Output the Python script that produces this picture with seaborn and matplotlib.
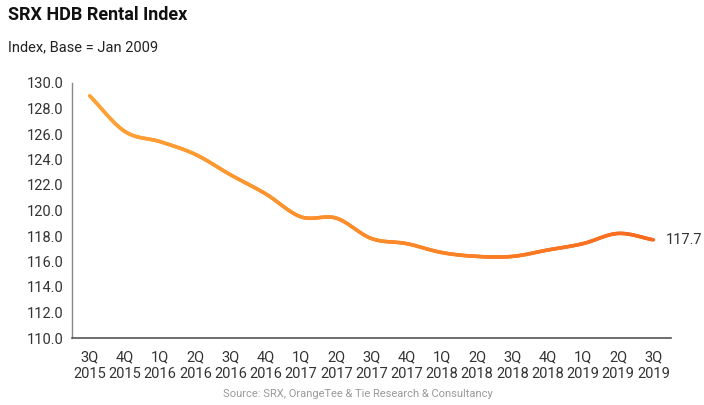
import numpy as np
import pandas as pd
import matplotlib
matplotlib.use("Agg")
import matplotlib.pyplot as plt
from matplotlib.collections import LineCollection
from matplotlib.colors import LinearSegmentedColormap
import seaborn as sns

quarters = ["3Q\n2015", "4Q\n2015", "1Q\n2016", "2Q\n2016", "3Q\n2016", "4Q\n2016",
            "1Q\n2017", "2Q\n2017", "3Q\n2017", "4Q\n2017", "1Q\n2018", "2Q\n2018",
            "3Q\n2018", "4Q\n2018", "1Q\n2019", "2Q\n2019", "3Q\n2019"]
index_values = [129.0, 126.2, 125.4, 124.4, 122.8, 121.3, 119.5, 119.4, 117.8,
                117.4, 116.7, 116.4, 116.4, 116.9, 117.4, 118.2, 117.7]
y_ticks = [110.0, 112.0, 114.0, 116.0, 118.0, 120.0, 122.0, 124.0, 126.0, 128.0, 130.0]

sns.set_theme(style="white")
plt.rcParams["font.family"] = ["Roboto", "DejaVu Sans"]

# smooth rendering of the line (cubic Hermite through the data points)
xs = np.arange(len(index_values), dtype=float)
ys = np.array(index_values)
m = np.gradient(ys, xs)
dense_x, dense_y = [], []
for i in range(len(xs) - 1):
    t = np.linspace(0, 1, 30, endpoint=(i == len(xs) - 2))
    h00 = 2 * t**3 - 3 * t**2 + 1
    h10 = t**3 - 2 * t**2 + t
    h01 = -2 * t**3 + 3 * t**2
    h11 = t**3 - t**2
    dense_x.extend(xs[i] + t)
    dense_y.extend(h00 * ys[i] + h10 * m[i] + h01 * ys[i + 1] + h11 * m[i + 1])
df = pd.DataFrame({"x": dense_x, "y": dense_y})

fig = plt.figure(figsize=(7.04, 4.05), dpi=100)
ax = fig.add_axes([72 / 704, 1 - 338 / 405, (671 - 72) / 704, (338 - 83) / 405])

sns.lineplot(data=df, x="x", y="y", ax=ax, color="#FB8A2A", linewidth=2.4)

# give the drawn line its orange gradient (light orange -> red-orange)
line = ax.lines[0]
pts = np.column_stack([line.get_xdata(), line.get_ydata()])
segs = np.stack([pts[:-1], pts[1:]], axis=1)
cmap = LinearSegmentedColormap.from_list("og", ["#FFA236", "#FC8C2A", "#F86A1E"])
lc = LineCollection(segs, cmap=cmap, linewidth=2.6, capstyle="round", joinstyle="round")
lc.set_array(np.linspace(0, 1, len(segs)))
ax.add_collection(lc)
line.set_visible(False)

ax.set_xlim(-0.5, len(quarters) - 0.5)
ax.set_ylim(110, 130)
ax.set_yticks(y_ticks)
ax.set_yticklabels([f"{v:.1f}" for v in y_ticks], fontsize=10.5, color="#333333")
ax.set_xticks(range(len(quarters)))
ax.set_xticklabels(quarters, fontsize=10.5, color="#333333", linespacing=1.25)
ax.tick_params(axis="both", length=0, pad=6)
ax.tick_params(axis="x", pad=9)
ax.set_xlabel("")
ax.set_ylabel("")
for s in ["top", "right"]:
    ax.spines[s].set_visible(False)
ax.spines["left"].set_color("#888888")
ax.spines["bottom"].set_color("#555555")
ax.spines["left"].set_linewidth(1.0)
ax.spines["bottom"].set_linewidth(1.2)

ax.annotate(f"{index_values[-1]:.1f}", xy=(len(quarters) - 1, index_values[-1]),
            xytext=(9, 0), textcoords="offset points", va="center", ha="left",
            fontsize=10.5, color="#333333", annotation_clip=False)

fig.text(8 / 704, 1 - 15 / 405, "SRX HDB Rental Index", fontsize=13, fontweight="bold",
         color="#111111", va="center", ha="left")
fig.text(8 / 704, 1 - 47 / 405, "Index, Base = Jan 2009", fontsize=10.5,
         color="#222222", va="center", ha="left")
fig.text(358 / 704, 1 - 394 / 405, "Source: SRX, OrangeTee & Tie Research & Consultancy",
         fontsize=8, color="#999999", va="center", ha="center")

fig.savefig("out.png", dpi=100)
